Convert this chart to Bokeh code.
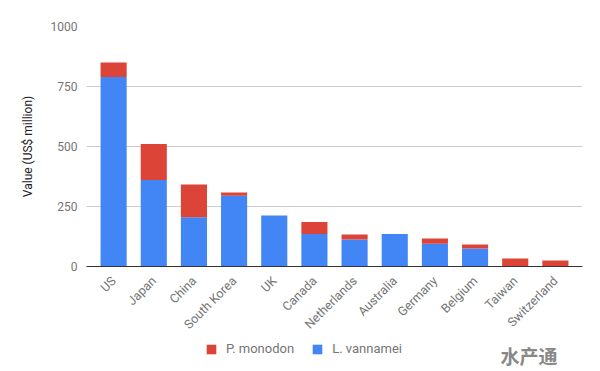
import math
from bokeh.plotting import figure
from bokeh.layouts import column
from bokeh.models import ColumnDataSource, FactorRange, Legend, LegendItem, FixedTicker, Label
from bokeh.embed import file_html
from bokeh.resources import INLINE

countries = ["US", "Japan", "China", "South Korea", "UK", "Canada", "Netherlands",
             "Australia", "Germany", "Belgium", "Taiwan", "Switzerland"]
l_vannamei = [790, 360, 205, 295, 213, 135, 113, 135, 95, 75, 0, 0]
p_monodon = [60, 150, 137, 13, 0, 50, 20, 0, 22, 17, 33, 25]
y_ticks = [0, 250, 500, 750, 1000]
series_names = ["P. monodon", "L. vannamei"]
series_colors = ["#DB4437", "#4285F4"]

src = ColumnDataSource(dict(country=countries, vannamei=l_vannamei, monodon=p_monodon))
font = "Roboto"

fig = figure(x_range=FactorRange(factors=countries, range_padding=0.175, range_padding_units="absolute"),
             y_range=(0, 1000), frame_width=496, frame_height=240,
             output_backend="svg", toolbar_location=None,
             min_border_left=86, min_border_top=26, min_border_right=2, min_border_bottom=60)

r = fig.vbar_stack(["vannamei", "monodon"], x="country", width=0.65, source=src,
                   color=[series_colors[1], series_colors[0]], line_color=None)

fig.outline_line_color = None
fig.background_fill_color = "white"
fig.border_fill_color = "white"

fig.yaxis.ticker = FixedTicker(ticks=y_ticks)
fig.yaxis.axis_line_color = None
fig.yaxis.major_tick_line_color = None
fig.yaxis.minor_tick_line_color = None
fig.yaxis.major_label_text_color = "#757575"
fig.yaxis.major_label_text_font = font
fig.yaxis.major_label_text_font_size = "12px"
fig.yaxis.major_label_standoff = 3
fig.yaxis.axis_label = "Value (US$ million)"
fig.yaxis.axis_label_text_font = font
fig.yaxis.axis_label_text_font_style = "normal"
fig.yaxis.axis_label_text_font_size = "12px"
fig.yaxis.axis_label_text_color = "#222222"
fig.yaxis.axis_label_standoff = 13

fig.xaxis.axis_line_color = "#333333"
fig.xaxis.axis_line_width = 1
fig.xaxis.major_tick_line_color = None
fig.xaxis.minor_tick_line_color = None
fig.xaxis.major_label_orientation = math.pi / 4
fig.xaxis.major_label_text_color = "#757575"
fig.xaxis.major_label_text_font = font
fig.xaxis.major_label_text_font_size = "12.5px"
fig.xaxis.major_label_standoff = 6

fig.xgrid.grid_line_color = None
fig.ygrid.grid_line_color = "#cccccc"

# bottom strip: legend + watermark
p2 = figure(frame_width=496, frame_height=31, x_range=(0, 1), y_range=(0, 1),
            x_axis_type=None, y_axis_type=None, output_backend="svg",
            toolbar_location=None, min_border_left=86, min_border_right=2,
            min_border_top=0, min_border_bottom=0)
p2.outline_line_color = None
p2.grid.grid_line_color = None
p2.background_fill_alpha = 0
items = []
for name, col in zip(series_names, series_colors):
    gr = p2.vbar(x=[0], top=[0], bottom=[0], width=0, color=col, line_color=None)
    items.append(LegendItem(label=name, renderers=[gr]))
legend = Legend(items=items, orientation="horizontal", location=(119, 15),
                label_text_font=font, label_text_font_size="13px",
                label_text_color="#757575", border_line_color=None,
                background_fill_alpha=0,
                glyph_width=12, glyph_height=12, spacing=17, label_standoff=9,
                margin=0, padding=0)
p2.add_layout(legend)

wm = Label(x=414, y=16, x_units="screen", y_units="screen", text="水产通",
           text_font="Noto Sans CJK SC", text_font_size="19px", text_color="#888888",
           text_baseline="middle", text_font_style="bold")
p2.add_layout(wm)

p = column(fig, p2, spacing=0)
open("out.html", "w").write(file_html(p, INLINE))
